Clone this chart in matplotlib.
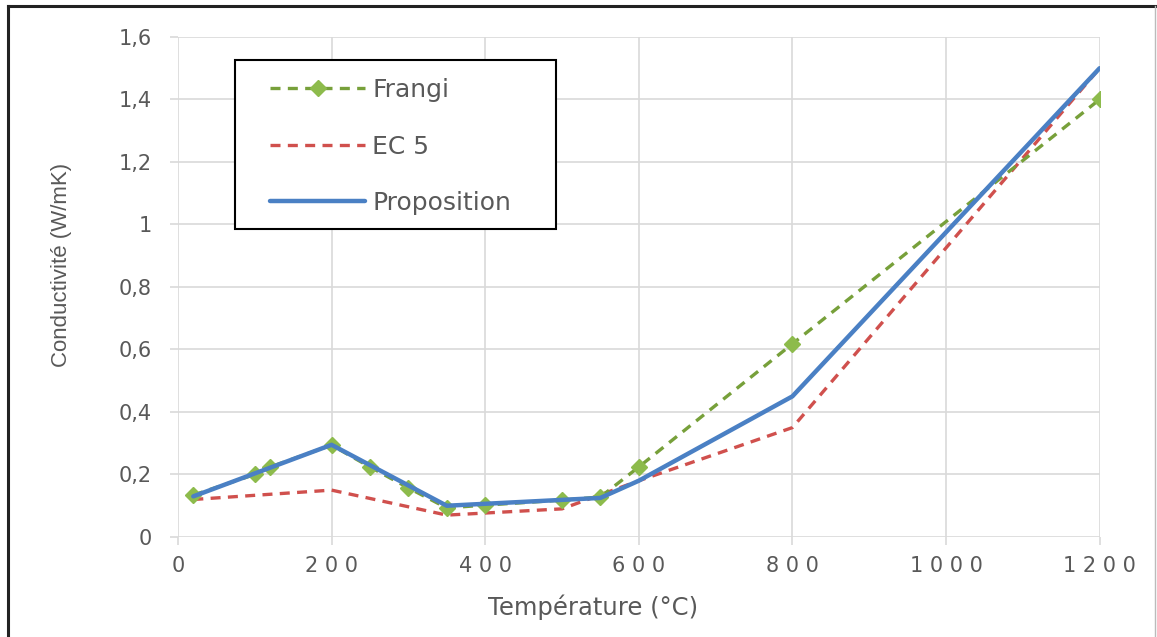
import matplotlib
matplotlib.use('Agg')
import matplotlib.pyplot as plt
from matplotlib.ticker import FuncFormatter, MultipleLocator
from matplotlib.patches import Rectangle
from matplotlib.lines import Line2D

# data
frangi_t = [20, 100, 120, 200, 250, 300, 350, 400, 500, 550, 600, 800, 1200]
frangi_k = [0.134, 0.20, 0.224, 0.294, 0.224, 0.157, 0.093, 0.102, 0.118, 0.128, 0.224, 0.618, 1.40]

ec5_t = [20, 200, 350, 500, 600, 800, 1200]
ec5_k = [0.12, 0.15, 0.07, 0.09, 0.18, 0.35, 1.50]

prop_t = [20, 200, 350, 550, 600, 800, 1200]
prop_k = [0.13, 0.295, 0.10, 0.125, 0.18, 0.45, 1.50]

labels = ['Frangi', 'EC 5', 'Proposition']

W, H = 1157, 637
fig = plt.figure(figsize=(W / 100, H / 100), dpi=100)
ax = fig.add_axes([0.1538, 0.157, 0.7966, 0.785])

grey = '#595959'
h_ec5, = ax.plot(ec5_t, ec5_k, color='#D0504D', lw=2.4, ls=(0, (3, 2.2)), zorder=3)
h_fr, = ax.plot(frangi_t, frangi_k, color='#77A03A', lw=2.4, ls=(0, (3, 2.2)),
                marker='D', ms=8.5, mfc='#8DBB4C', mec='#8DBB4C', zorder=4)
h_pr, = ax.plot(prop_t, prop_k, color='#4A80C4', lw=3.2, zorder=5,
                solid_capstyle='round')

ax.set_xlim(0, 1200)
ax.set_ylim(0, 1.6)
ax.xaxis.set_major_locator(MultipleLocator(200))
ax.yaxis.set_major_locator(MultipleLocator(0.2))

def yfmt(v, pos):
    s = ('%.1f' % v).replace('.', ',')
    if s.endswith(',0'):
        s = s[:-2]
    return s

def xfmt(v, pos):
    # spaced digits like the original
    return ' '.join(str(int(round(v))))

ax.yaxis.set_major_formatter(FuncFormatter(yfmt))
ax.xaxis.set_major_formatter(FuncFormatter(xfmt))
ax.grid(True, color='#D9D9D9', lw=1.2)
ax.set_axisbelow(True)
for s in ax.spines.values():
    s.set_visible(False)
ax.tick_params(axis='both', colors='#D9D9D9', length=6, width=1.2,
               labelcolor=grey, labelsize=15)
ax.tick_params(axis='y', pad=13)
ax.tick_params(axis='x', pad=8)

ax.set_xlabel('Température (°C)', fontsize=17.5, color=grey)
ax.xaxis.set_label_coords(0.4506, -0.115)
ax.set_ylabel('Conductivité (W/mK)', fontsize=16, color=grey,
              family='Liberation Sans')
ax.yaxis.set_label_coords(-0.115, 0.544)

# legend box drawn separately, entries placed inside it
box = Rectangle((235 / W, 1 - 229 / H), 321 / W, 169 / H,
                transform=fig.transFigure, facecolor='white',
                edgecolor='black', lw=1.5, zorder=6, clip_on=False)
ax.add_patch(box)
leg = ax.legend([h_fr, h_ec5, h_pr], labels, loc='upper left',
                bbox_to_anchor=(270 / W, 1 - 78 / H), bbox_transform=fig.transFigure,
                frameon=False, handlelength=3.8, labelspacing=1.3,
                borderpad=0, handletextpad=0.3, borderaxespad=0,
                prop={'size': 18})
leg.set_zorder(7)
for t in leg.get_texts():
    t.set_color(grey)

# outer border of the picture
fig.add_artist(Line2D([8 / W, 8 / W], [0, 1 - 6 / H], color='#222222', lw=2.2))
fig.add_artist(Line2D([8 / W, 1], [1 - 6 / H, 1 - 6 / H], color='#222222', lw=2.2))
fig.add_artist(Line2D([1155 / W, 1155 / W], [0, 1 - 6 / H], color='#BBBBBB', lw=1))

fig.savefig('out.png', dpi=100)
